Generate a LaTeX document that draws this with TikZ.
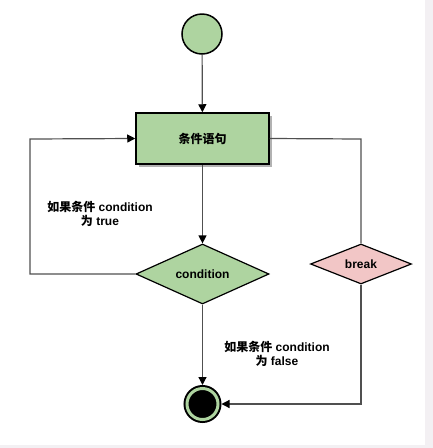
\documentclass[tikz,border=0pt]{standalone}
\usepackage{fontspec}
\setmainfont{Liberation Sans}
\newfontfamily\cjk{Noto Sans CJK SC}
\usetikzlibrary{shapes.geometric}
\usetikzlibrary{arrows.meta}
\usetikzlibrary{shadows}
\usepackage{xcolor}

\definecolor{actgreen}{HTML}{AED4A0}
\definecolor{brkpink}{HTML}{F2C6C6}
\definecolor{flowgray}{HTML}{505050}
\definecolor{edgegray}{HTML}{F3F0F3}

\tikzset{
	flow/.style={draw=flowgray, line width=1.2pt, -{Triangle[length=8pt,width=8pt,color=black]}},
	line/.style={draw=flowgray, line width=1.2pt},
	startnode/.style={circle, draw=black, line width=1.5pt, fill=actgreen, minimum size=40pt, inner sep=0pt},
	stopnode/.style={circle, draw=black, double=actgreen, double distance=3pt, line width=2pt, fill=black, minimum size=31pt, inner sep=0pt, outer sep=3.5pt},
	stmtbox/.style={rectangle, draw=black, line width=1.5pt, fill=actgreen, minimum width=133pt, minimum height=51pt, inner sep=0pt,
		drop shadow={shadow xshift=3pt, shadow yshift=-3pt, fill=gray!60, opacity=1}},
	decision/.style={diamond, draw=black, line width=1.2pt, fill=actgreen, aspect=2.2, minimum width=133pt, minimum height=60pt, inner sep=0pt},
	breakbox/.style={diamond, draw=black, line width=1.2pt, fill=brkpink, aspect=2.5, minimum width=101pt, minimum height=40pt, inner sep=0pt},
	flowlabel/.style={align=center}
}

\begin{document}
\begin{tikzpicture}[x=1pt, y=-1pt, font=\fontsize{12}{14}\selectfont\bfseries]
	\useasboundingbox (0,0) rectangle (433,448);
	\fill[edgegray] (425,0) rectangle (433,448);
	\fill[edgegray] (0,445) rectangle (433,448);

	\node[startnode] (start) at (202,34) {};
	\node[stmtbox] (stmt) at (202.5,138.5) {{\cjk 条件语句}};
	\node[decision] (cond) at (202.5,274) {condition};
	\node[breakbox] (brk) at (361,264) {break};
	\node[stopnode] (stop) at (202.5,404) {};

	\node[flowlabel] (truelbl) at (100,214) {{\cjk 如果条件} condition\\{\cjk 为} true};
	\node[flowlabel] (falselbl) at (277,354) {{\cjk 如果条件} condition\\{\cjk 为} false};

	\coordinate (lt) at (30,139);
	\coordinate (rt) at (361,139);
	\coordinate (rb) at (361,404);

	\draw[flow] (start) -- (stmt);
	\draw[flow] (stmt) -- (cond);
	\draw[flow] (cond) -- (stop);
	\draw[flow] (cond.west) -| (lt) -- (stmt.west);
	\draw[line] (stmt.east) -- (rt) -- (brk.north);
	\draw[flow] (brk.south) -- (rb) -- (stop.east);
\end{tikzpicture}
\end{document}
